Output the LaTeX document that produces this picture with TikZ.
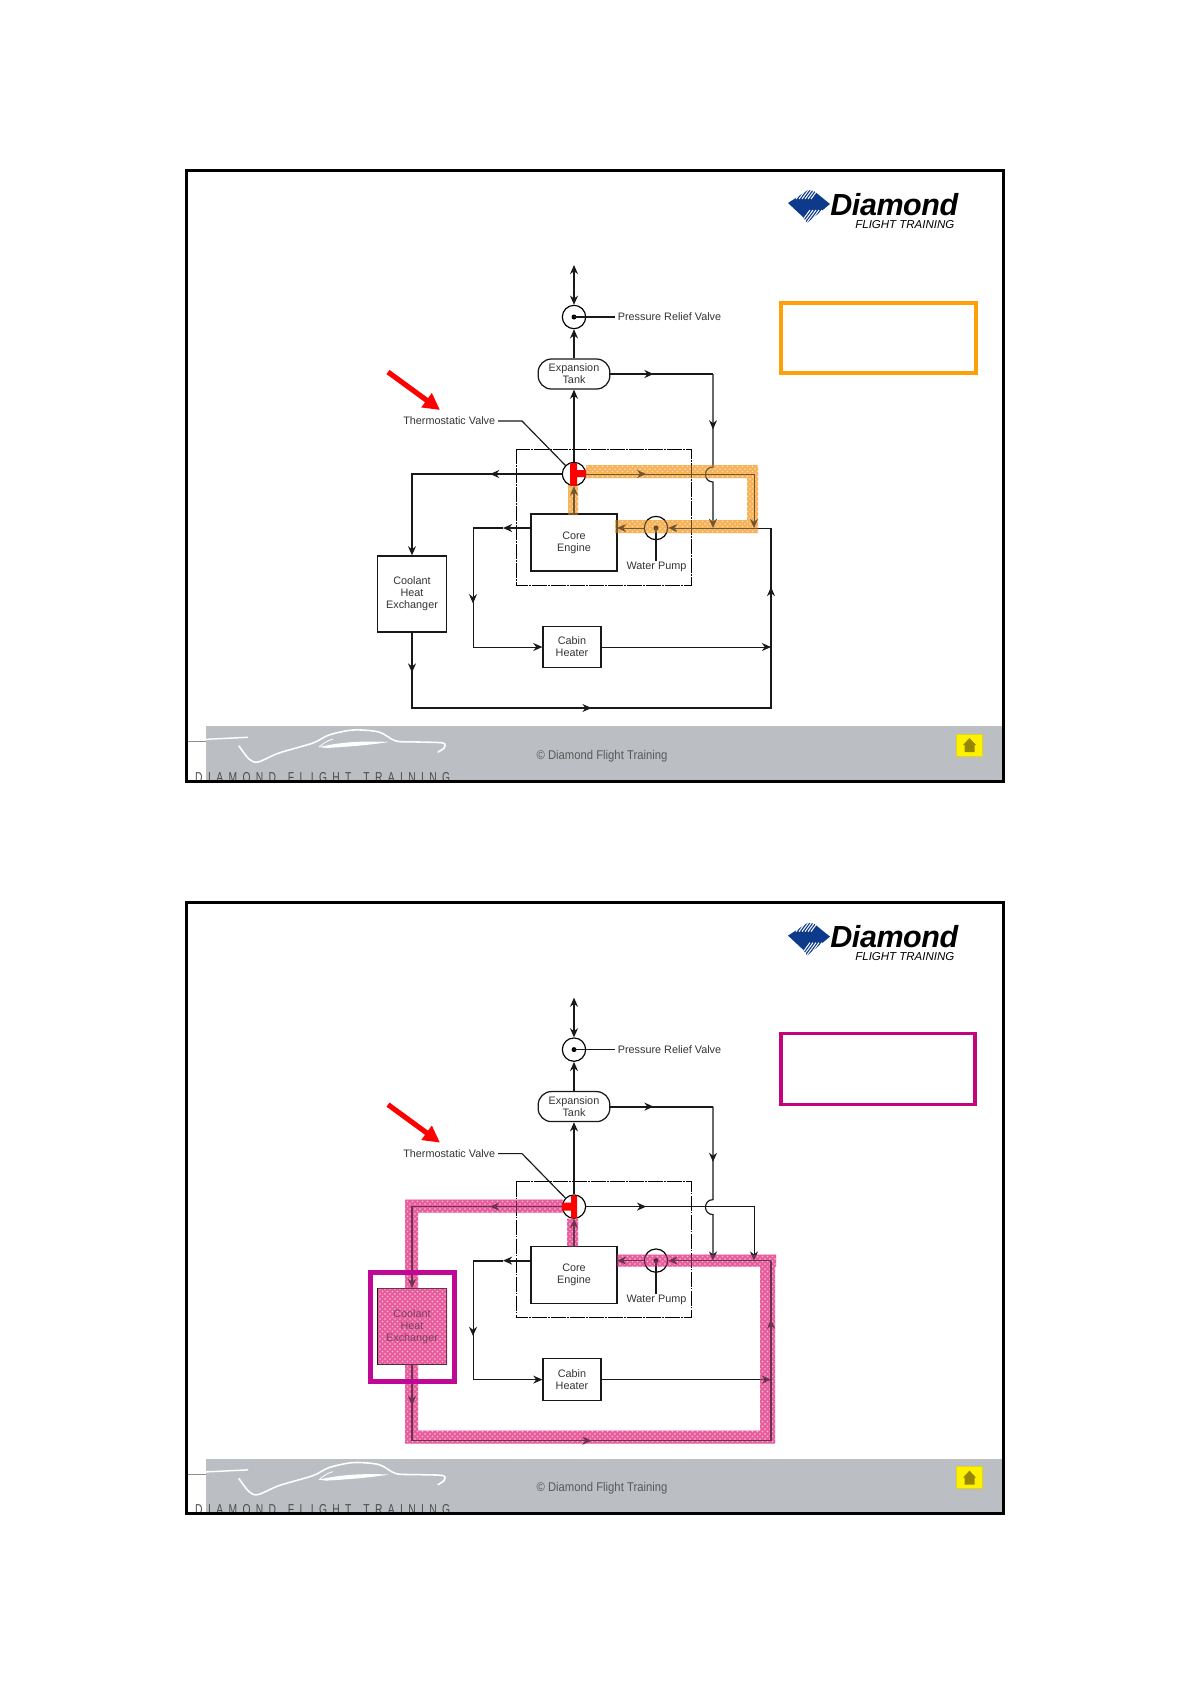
\documentclass[tikz,border=0pt]{standalone}
\usepackage{fontspec}
\setmainfont{Liberation Sans}
\usepackage{xcolor}
\usetikzlibrary{arrows.meta, backgrounds, decorations.markings, patterns}
\definecolor{BandGrey}{RGB}{187,190,195}
\definecolor{LogoBlue}{RGB}{14,58,140}
\definecolor{OrangeFrame}{RGB}{253,160,10}
\definecolor{OrangeBand}{RGB}{247,178,88}
\definecolor{PinkFrame}{RGB}{196,4,124}
\definecolor{PinkBand}{RGB}{232,92,158}
\definecolor{MagentaBox}{RGB}{192,8,150}
\definecolor{HomeOlive}{RGB}{150,135,0}
\tikzset{
  flowtip/.tip={Stealth[length=5.5pt,width=4.8pt]},
  pipe/.style={draw=black!90, line width=0.7pt},
  arr/.style={pipe, -flowtip},
  midarr/.style={postaction={decorate, decoration={markings,
      mark=at position #1 with {\arrow{flowtip}}}}},
  unit/.style={draw=black!90, line width=0.75pt, inner sep=0pt, align=center,
      font=\fontsize{6.5}{7.3}\selectfont, text=black!80},
  valve/.style={circle, draw=black, line width=0.7pt, inner sep=0pt, minimum size=14pt},
  tag/.style={inner sep=1.5pt, font=\fontsize{6.5}{7.3}\selectfont, text=black!80},
  band/.style={postaction={pattern=crosshatch dots, pattern color=white}},
}
% everything both slides share
\newcommand{\slidebase}{
  \fill[BandGrey] (206,726) rectangle (1002,781);
  \fill[black!45] (188,741) rectangle (206,742);
  \fill[white] (188,739.5) -- (248,736.5) -- (248,738) -- (206,740) -- (188,741) -- cycle;
  \draw[white, line width=0.95pt, line cap=round] plot[smooth] coordinates
    {(239,746) (249,759) (258,762) (279,753) (313,743) (329,735) (353,730) (379,732) (396,741) (419,742) (443,743) (444,748) (438,752)};
  \draw[white, line width=0.5pt] (319,747) .. controls (323,744) and (326,741) .. (333,739);
  \fill[white] (319,747) .. controls (345,741) and (370,741) .. (389,742) .. controls (370,745) and (345,747) .. (326,748) -- cycle;
  \node[anchor=base west, inner sep=0pt, text=black!70, font=\fontsize{8.6}{9}\selectfont, xscale=0.72] (brand) at (195,782)
    {\addfontfeature{LetterSpace=52}DIAMOND\hspace{3pt} FLIGHT\hspace{3pt} TRAINING};
  \node[inner sep=0pt, text=black!65, font=\fontsize{7.6}{9}\selectfont, xscale=0.89] (copyright) at (602,756) {© Diamond Flight Training};
  \node[fill=yellow, draw=yellow!85!black, line width=0.3pt, minimum width=15.6pt, minimum height=13.2pt, inner sep=0pt] (home) at (969,745) {};
  \fill[HomeOlive] (969.5,738) -- (976,745) -- (974.5,745) -- (974.5,752) -- (964.5,752) -- (964.5,745) -- (963,745) -- cycle;
  \draw[black, line width=1.8pt] (186,170) rectangle (1003,781);
  % logo
  \fill[LogoBlue] (788,203) -- (808,190) -- (814,191) -- (830,204) -- (807,223) -- (803,217) -- cycle;
  \foreach \i in {0,...,6} {
    \draw[white, line width=0.6pt] (793+\i*3,199) -- (801+\i*3,188);
    \draw[white, line width=0.6pt] (799+\i*3,225) -- (810+\i*3,210);
  }
  \node[anchor=base west, inner sep=0pt, font=\fontsize{18.3}{20}\selectfont\bfseries\itshape] (logoname) at (830,215)
    {\addfontfeature{LetterSpace=-1.4}Diamond};
  \node[anchor=base west, inner sep=0pt, font=\fontsize{6.9}{8}\selectfont\itshape] (logosub) at (855,228) {FLIGHT TRAINING};
  % cooling circuit
  \node[valve] (relief) at (574,317) {};
  \node[unit, rounded corners=8pt, minimum width=43pt, minimum height=18pt] (tank) at (574,374) {Expansion\\Tank};
  \node[valve] (thermo) at (574,474) {};
  \node[valve] (pump) at (656,528) {};
  \node[unit, minimum width=51.6pt, minimum height=34.2pt] (core) at (574,542.5) {Core\\Engine};
  \node[unit, minimum width=41pt, minimum height=45.6pt] (cooler) at (412,594) {Coolant\\Heat\\Exchanger};
  \node[unit, minimum width=34.8pt, minimum height=25pt] (heater) at (572,647) {Cabin\\Heater};
  \node[tag, anchor=west] (relieftag) at (615,317) {Pressure Relief Valve};
  \node[tag, anchor=east] (thermotag) at (498,421) {Thermostatic Valve};
  \node[tag] (pumptag) at (656.5,567) {Water Pump};
  \draw[black, line width=0.55pt, dash pattern=on 9pt off 0.7pt on 1pt off 0.7pt] (516,449) rectangle (691,585);
  \coordinate (vent) at (574,265);
  \coordinate (tankturn) at (713,374);
  \coordinate (bumpa) at (713,467);
  \coordinate (bumpb) at (713,482);
  \coordinate (joina) at (713,528);
  \coordinate (coolturn) at (412,474);
  \coordinate (bypassturn) at (754,474);
  \coordinate (joinb) at (754,528);
  \coordinate (corner) at (771,528);
  \coordinate (corein) at (617,528);
  \coordinate (lowleft) at (412,708);
  \coordinate (lowright) at (771,708);
  \coordinate (coreout) at (531,528);
  \coordinate (feedtop) at (473,528);
  \coordinate (feedlow) at (473,647);
  \coordinate (feedmid) at (503,528);
  \coordinate (heaterin) at (771,647);
  \coordinate (tagknee) at (522,421);
  \draw[pipe, flowtip-flowtip] (vent) -- (relief.north);
  \draw[arr] (tank.north) -- (relief.south);
  \draw[arr] (thermo.north) -- (tank.south);
  \draw[arr] (core.north) -- (thermo.south);
  \draw[arr, midarr=0.31] (thermo.west) -- (coolturn) -- (cooler.north);
  \draw[arr, line width=0.55pt, midarr=0.27] (thermo.east) -- (bypassturn) -- (joinb);
  \draw[pipe, line width=1.1pt, midarr=0.42] (tank.east) -- (tankturn);
  \draw[arr, midarr=0.34] (tankturn) -- (bumpa)
    .. controls (703,467) and (703,482) .. (bumpb) -- (joina);
  \draw[arr, line width=0.55pt] (corner) -- (pump.east);
  \draw[arr, line width=0.55pt] (pump.west) -- (corein);
  \draw[pipe, midarr=0.065, midarr=0.415, midarr=0.904] (cooler.south) -- (lowleft) -- (lowright) -- (corner);
  \draw[arr, line width=1.1pt] (coreout) -- (feedmid);
  \draw[pipe, line width=1.1pt] (feedmid) -- (feedtop);
  \draw[arr, line width=0.6pt, midarr=0.4] (feedtop) -- (feedlow) -- (heater.west);
  \draw[arr, line width=0.6pt] (heater.east) -- (heaterin);
  % leader lines
  \fill (relief.center) circle (2.5);
  \fill (pump.center) circle (2.5);
  \draw[pipe] (relief.center) -- (relieftag.west);
  \draw[pipe] (pump.center) -- (656,561);
  \draw[pipe] (thermotag.east) -- (tagknee) -- (thermo.135);
  \draw[red, line width=3.1pt, -{Triangle[length=10pt,width=10pt]}] (388,372) -- (440,410);
}
\newcommand{\orangepath}{(586,465) rectangle (758,478) (747,465) rectangle (758,533)
  (615,520) rectangle (758,533) (568,485) rectangle (578,515)}
\newcommand{\pinkpath}{(405,467) rectangle (563,480) (405,467) rectangle (418,711)
  (405,698) rectangle (775,711) (760,522) rectangle (775,711) (617,522) rectangle (776,534)
  (567,486) rectangle (578,514) (378,555.5) rectangle (447,632)}
\begin{document}
\begin{tikzpicture}[x=0.6pt, y=-0.6pt]
\useasboundingbox (0,0) rectangle (1190,1684);
\begin{scope}[name prefix=top-]
  \slidebase
  \begin{scope}[on background layer]
    \fill[OrangeBand, band] \orangepath;
  \end{scope}
  \fill[OrangeBand, fill opacity=0.4] \orangepath;
  \fill[red] (570,463) rectangle (577,485.5) (577,470) rectangle (586,477);
  \draw[OrangeFrame, line width=2.2pt] (781,303) rectangle (976,373);
\end{scope}
\begin{scope}[name prefix=low-, shift={(0,732.6)}]
  \slidebase
  \begin{scope}[on background layer]
    \fill[PinkBand, band] \pinkpath;
  \end{scope}
  \fill[PinkBand, fill opacity=0.4] \pinkpath;
  \fill[red] (571,463) rectangle (577,485.5) (562,470) rectangle (571,478);
  \draw[MagentaBox, line width=3pt] (370.5,539.5) rectangle (454.5,649);
  \draw[PinkFrame, line width=2.2pt] (781,301) rectangle (975,372);
\end{scope}
\end{tikzpicture}
\end{document}
